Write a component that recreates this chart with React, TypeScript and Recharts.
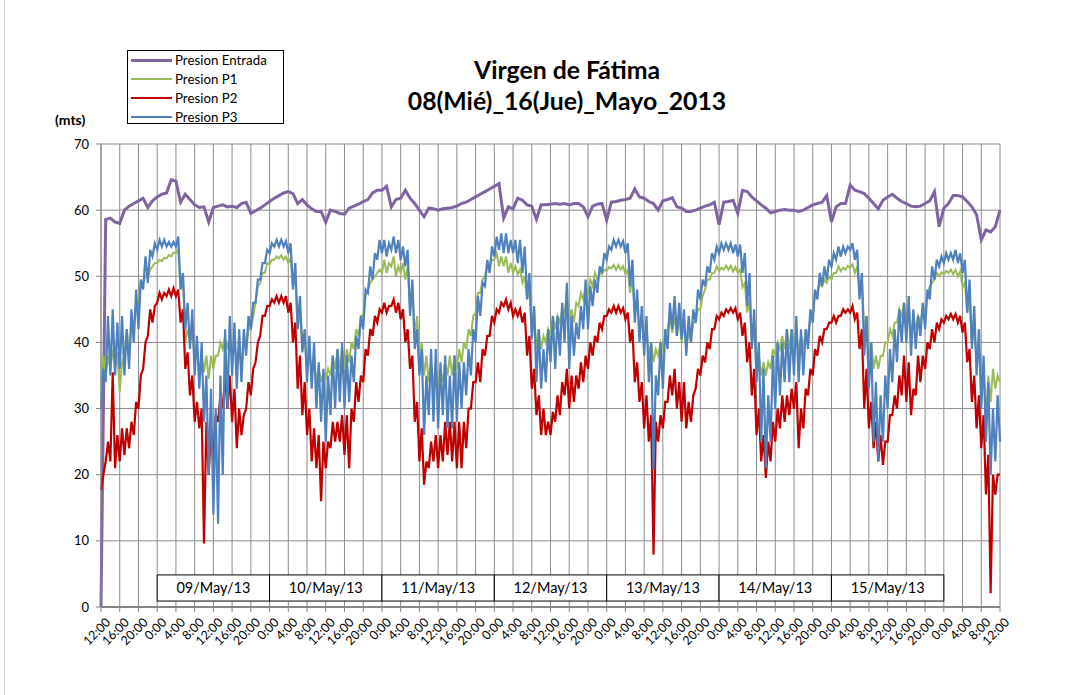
import { LineChart, Line, XAxis, YAxis, CartesianGrid, ReferenceArea } from "recharts";

// hours counted from 08/May/13 12:00, one entry per hour (0..192)
const hourCycle = ["12:00", "16:00", "20:00", "0:00", "4:00", "8:00"];
const days = ["09/May/13", "10/May/13", "11/May/13", "12/May/13", "13/May/13", "14/May/13", "15/May/13"];
const dayStarts = [12, 36, 60, 84, 108, 132, 156];
const yTicks = [0, 10, 20, 30, 40, 50, 60, 70];

const entrada = [
  0, 58.6, 58.8, 58.2, 58.0, 60.0, 60.6, 61.0, 61.4, 61.8, 60.4, 61.4,
  62.0, 62.4, 62.6, 64.6, 64.4, 61.2, 62.4, 61.6, 60.8, 60.4, 60.5, 58.2,
  60.4, 60.6, 60.8, 60.5, 60.6, 60.4, 61.0, 61.2, 59.5, 59.9, 60.3, 60.8,
  61.3, 61.8, 62.2, 62.6, 62.8, 62.5, 61.0, 61.6, 60.8, 60.2, 59.8, 59.8,
  58.2, 60.0, 59.8, 59.5, 59.4, 60.3, 60.6, 60.9, 61.3, 61.6, 62.6, 63.0,
  63.0, 63.6, 60.5, 61.6, 61.8, 63.0, 61.8, 61.0, 60.0, 59.0, 60.3, 60.2,
  60.0, 60.2, 60.3, 60.4, 60.6, 61.0, 61.2, 61.6, 62.0, 62.4, 62.8, 63.2,
  63.6, 64.0, 58.8, 60.5, 60.2, 61.8, 61.5, 60.8, 60.6, 58.6, 60.8, 60.8,
  60.9, 61.0, 60.9, 61.0, 60.8, 61.0, 61.0, 60.5, 59.0, 60.6, 60.9, 61.0,
  58.5, 61.2, 61.3, 61.5, 61.6, 61.8, 63.2, 62.0, 61.8, 61.3, 61.0, 60.0,
  61.4, 61.6, 61.9, 60.5, 60.3, 59.8, 59.8, 60.0, 60.3, 60.6, 60.8, 61.2,
  57.8, 61.2, 61.3, 61.5, 59.5, 63.0, 62.8, 62.0, 61.4, 60.8, 60.3, 59.6,
  59.8, 60.0, 60.1, 60.0, 60.0, 59.8, 60.0, 60.4, 60.8, 61.0, 61.2, 62.2,
  58.2, 60.5, 61.0, 61.0, 63.8, 63.0, 62.8, 62.5, 61.8, 61.0, 60.2, 61.5,
  62.0, 62.4, 61.8, 61.3, 61.0, 60.6, 60.5, 60.6, 61.0, 61.4, 62.8, 57.5,
  60.3, 61.0, 62.2, 62.2, 62.0, 61.3, 60.5, 59.3, 55.5, 57.0, 56.7, 57.5,
  60.0,
];

// low / high of the noisy band read for each hour
const p1Lo = [
  34, 35, 36, 36, 32.5, 38, 38, 42, 46, 49, 50, 51.5,
  52, 52.3, 52.7, 53, 53.5, 48, 40, 40, 37.5, 35, 35.5, 34.5,
  36, 38, 39, 39, 38, 37, 36, 39, 42, 46, 49, 50.5,
  51.8, 52.5, 52.7, 52.5, 52, 48.5, 42, 39, 36, 35, 34, 34,
  34.5, 35, 36, 36, 36, 37, 39, 41, 44, 48, 49.5, 50.5,
  50.5, 50.5, 51.5, 50, 50.5, 49.5, 45, 41, 38, 35, 34, 33.5,
  33, 34, 35, 35, 36, 37, 39, 41, 44.5, 47.5, 50, 51.5,
  52.5, 51.5, 51.5, 50.5, 50.5, 50.3, 49, 46.5, 42, 39, 39, 40,
  41, 42, 43, 44.5, 43, 43, 45.5, 46.5, 47.5, 48.5, 49.5, 50.3,
  50.8, 51.2, 51, 51, 50.3, 47.5, 44.5, 42, 40, 38, 37, 38,
  39, 42, 41.5, 41, 40, 39, 40, 43, 45, 48, 49.5, 50.5,
  50.8, 51, 51, 50.7, 50.5, 48.3, 44.5, 40, 36, 35, 35, 36,
  38, 39, 39, 39, 40, 38, 39, 41, 44.5, 47.5, 48.5, 49,
  49.5, 50.5, 50.8, 51, 51.3, 50.5, 47.5, 42, 38, 36, 36, 38,
  40, 41, 43, 44, 42, 41, 42, 43, 45, 48.5, 49.5, 50,
  50.3, 50.5, 50.3, 50, 48.3, 44.5, 40, 37.5, 33, 28, 31, 33,
  34,
];
const p1Hi = [
  38, 38, 39, 38.5, 37, 42, 42, 46, 49, 50, 51, 52,
  52.5, 52.8, 53.2, 53.6, 54, 50, 42, 41.5, 39, 38, 38, 38,
  38, 40, 41, 41, 40, 39, 40, 42, 44, 48.5, 50.5, 52,
  52.5, 53, 53.2, 53, 52.7, 50, 45, 41, 39, 37, 36, 35.5,
  36, 38, 39, 39, 39, 40, 42, 44, 47, 49, 50, 51,
  52.5, 52, 53, 51.5, 52, 51.5, 48.5, 44, 40, 38, 37, 36.5,
  36, 37, 38, 38, 39, 40, 42, 44, 47.5, 49.5, 51.5, 52.5,
  53.5, 53, 53, 52, 51.5, 51, 50, 48.5, 45, 42, 41, 42,
  44, 44, 45, 47.5, 45, 46, 47.5, 48.5, 49.5, 50.5, 50.5, 51,
  51.4, 51.7, 51.7, 51.5, 51, 49.5, 46.5, 44, 42, 40, 39, 40,
  41, 44, 44, 44, 43, 42, 43, 45, 47, 49.5, 50.5, 51.5,
  51.3, 51.6, 51.6, 51.4, 51, 49, 46.5, 42, 38, 37, 37, 39,
  40, 41, 42, 42, 42, 41, 42, 44, 47.5, 49, 49.5, 50,
  50.5, 51.5, 51.3, 51.6, 51.8, 51.5, 49.5, 44, 40, 38, 38, 40,
  42, 43, 45, 46, 45, 44, 44, 45, 47, 49, 50.5, 50.6,
  50.8, 51, 51, 50.8, 49, 46.5, 42, 39, 37, 35, 36, 35,
  36,
];

const p2Lo = [
  17.7, 22, 22, 21, 22, 23, 24, 26, 30, 36, 41, 43,
  46, 46.5, 47, 47, 47, 43, 36, 32, 28, 27, 9.6, 20,
  22, 28, 30, 30, 28, 24, 26, 30, 32, 37, 41, 44,
  45.5, 46, 46, 46, 44.5, 40, 33, 29, 26, 22, 21, 16,
  21, 24, 25, 25, 23, 21, 28, 31, 34, 38, 41, 43,
  44.5, 44.5, 45.5, 44.5, 43.5, 40, 36, 28, 22, 18.5, 21, 22,
  21, 22, 23, 22, 21, 21, 24, 30, 34, 34, 38, 41,
  43, 44.5, 45.5, 45, 44, 44, 43, 38, 33, 29, 26, 26,
  26, 28, 29, 32, 30, 31, 33, 34, 36, 38, 40, 42,
  44, 44.5, 44.5, 44.5, 43.5, 40, 34, 31, 27, 25, 7.9, 25,
  27, 31, 32, 30, 28, 27, 28, 33, 35, 37, 39, 42,
  43.5, 44, 44.5, 44.5, 43.5, 41, 37, 32, 26, 22, 19.5, 22,
  25, 27, 28, 29, 30, 24, 27, 32, 35, 38, 40, 42,
  43, 43, 44, 44.5, 44.5, 43.5, 39, 30, 27, 24, 22, 21.5,
  25, 29, 30, 32, 31, 29, 32, 34, 36, 39, 40, 42,
  43, 43.5, 43.5, 43, 41.5, 37, 31, 27, 24, 17, 2.1, 17,
  20,
];
const p2Hi = [
  20, 25, 35.5, 26, 27, 27, 28, 31, 35, 40, 45, 45.5,
  47.5, 47.5, 48, 48.2, 48, 45, 38.5, 35, 31, 30, 28, 27,
  29, 32, 35, 35, 33, 30, 29, 34, 36, 40, 44, 45.5,
  46.5, 47, 47, 47, 46, 43, 38, 34, 30, 27, 26, 25,
  25, 28, 28, 29, 29, 30, 34, 35, 39, 42, 44, 45,
  46, 45.5, 46.5, 46, 45, 42, 38, 31, 27, 22, 25, 26,
  26, 28, 28, 28, 28, 28, 30, 34, 37, 39, 41, 44,
  45, 46, 46.5, 46, 45, 45, 44.5, 41, 36, 32, 30, 28,
  29.5, 32, 34, 36, 35, 35, 37, 38, 40, 41, 43, 44,
  45, 45.5, 45.5, 45.2, 44.5, 42, 37, 34, 32, 29, 28, 29,
  31, 35, 36, 34, 34, 31, 32, 36, 38, 40, 42, 44,
  44.5, 45, 45.2, 45.2, 44.5, 43, 40, 36, 30, 26, 25, 28,
  30, 32, 32, 33, 34, 30, 33, 36, 39, 41, 42, 43,
  44, 44, 45, 45, 45.5, 44.5, 42, 36, 31, 28, 26, 25,
  29, 32, 35, 38, 37, 33, 38, 38, 40, 42, 43, 43.5,
  44, 44.3, 44.3, 44, 43, 39, 35, 32, 29, 23, 20, 20,
  22,
];

const p3Lo = [
  30, 34, 35, 35, 36, 35, 36, 40, 42, 48, 49, 53,
  54, 54.5, 54.5, 54.5, 54.5, 48, 42, 39, 35, 33, 28, 20,
  14, 12.6, 20, 30, 35, 33, 34, 38, 42, 46, 49.5, 52,
  53.5, 54.5, 54.5, 54.5, 53.5, 48, 42, 38.5, 34, 33, 30, 28,
  25, 29, 30, 31, 30, 31, 34, 39, 42, 47.5, 49.5, 52.5,
  53.5, 53, 54, 53.5, 52.5, 51.5, 44, 39, 35, 26, 29, 28,
  27, 29, 27, 27, 28, 30, 32, 35, 40, 44, 48.5, 50.5,
  53, 54, 53.5, 53.5, 53.5, 52, 50.5, 46.5, 40.5, 34, 33, 34,
  37, 36, 38, 40, 36, 38, 40.5, 42, 42, 45.5, 47.5, 50.5,
  52.5, 54, 54.5, 54.5, 53.5, 48.5, 43, 40, 38, 34, 20.7, 32,
  33, 39, 42, 41, 40.5, 38, 40, 43, 46.5, 48.5, 50.5, 52.5,
  53.5, 54, 54, 53.5, 53, 50.5, 45.5, 39, 34, 25, 21, 25,
  30, 32, 34, 34, 35, 34, 35, 39, 43, 46.5, 48.5, 49.5,
  51.5, 52.5, 53, 53.5, 54, 52.5, 46.5, 38, 33, 25, 22, 25,
  30, 34, 37, 40, 40, 38, 39, 41, 42, 46.5, 49.5, 51.5,
  52, 52.5, 52.5, 52, 50.5, 44.5, 39, 35, 30, 25, 20, 22,
  25,
];
const p3Hi = [
  36, 44, 45, 43, 44, 42, 45, 48, 49.5, 53, 54, 55,
  55.5, 55.5, 55.2, 55.2, 56, 50.5, 46, 45, 41, 40, 35, 33,
  30, 35, 42, 44, 43, 42, 42, 44, 46, 49.5, 52, 54,
  55, 55.5, 55.5, 55.3, 55, 52, 47, 42, 41, 40, 37, 36,
  35, 38, 39, 40, 38, 38, 41, 44, 48, 51.5, 53.5, 55.5,
  55.5, 55, 56, 55.5, 54.5, 54, 49.5, 42, 39, 35, 39, 39,
  37, 38, 35, 38, 37, 37, 39, 42, 47, 49, 52.5, 54.5,
  56, 56.5, 56.5, 55.5, 55.5, 55.5, 54.5, 50.5, 45.5, 42, 39, 42,
  44, 44, 46, 49, 44, 43, 45.5, 49.5, 48.5, 49.5, 51.5, 53.5,
  54.5, 55.5, 55.5, 55.3, 55, 52.5, 48, 45.5, 44, 40, 35, 40,
  42, 46, 47, 46, 45, 44, 45, 48, 49.5, 51.5, 53.5, 54.5,
  55, 55, 55, 54.8, 54.8, 53.5, 50.5, 45, 40, 36, 32, 38,
  40, 40, 42, 42, 44, 42, 42, 45, 48, 50.5, 51.5, 52.5,
  53.5, 54.5, 54.5, 54.5, 55, 54, 50.5, 44, 40, 34, 32, 35,
  39, 42, 45, 46, 47, 45, 44, 46, 48, 51.5, 52.5, 53,
  53.5, 53.5, 54, 53.5, 52.5, 49.5, 45.5, 42, 38, 34, 30, 32,
  35,
];

const series = [
  { key: "entrada", name: "Presion Entrada", color: "#8064A2", width: 3 },
  { key: "p1", name: "Presion P1", color: "#9BBB59", width: 2 },
  { key: "p2", name: "Presion P2", color: "#C00000", width: 2.2 },
  { key: "p3", name: "Presion P3", color: "#4F81BD", width: 2.2 },
];

const xTicks: number[] = [];
for (let t = 0; t <= 192; t += 4) xTicks.push(t);

const rows: any[] = [];
for (let h = 0; h < entrada.length; h++) {
  rows.push({ t: h, entrada: entrada[h], p1: p1Lo[h], p2: p2Lo[h], p3: p3Lo[h] });
  if (h < entrada.length - 1) rows.push({ t: h + 0.5, p1: p1Hi[h], p2: p2Hi[h], p3: p3Hi[h] });
}

const font = "Lato, 'Open Sans', sans-serif";

const XTick = (props: any) => {
  const { x, y, payload } = props;
  const label = hourCycle[(payload.value / 4) % hourCycle.length];
  const ax = x + 4;
  const ay = y + 3;
  return (
    <text x={ax} y={ay} dy="0.7em" transform={`rotate(-45 ${ax} ${ay})`} textAnchor="end" fontSize={12.5} fill="#000" fontFamily={font}>
      {label}
    </text>
  );
};

export default function App() {
  return (
    <div style={{ position: "absolute", left: 0, top: 0, width: 1067, height: 695, background: "#fff", fontFamily: font }}>
      <div style={{ position: "absolute", left: 4, top: 0, width: 1, height: 695, background: "#d0d0d0" }} />
      <LineChart width={1067} height={695} data={rows} margin={{ top: 144, right: 67, bottom: 28, left: 41 }}>
        <CartesianGrid stroke="#8c8c8c" strokeWidth={1} />
        <XAxis
          type="number"
          dataKey="t"
          domain={[0, 192]}
          ticks={xTicks}
          interval={0}
          height={60}
          tick={<XTick />}
          tickSize={5}
          axisLine={{ stroke: "#868686", strokeWidth: 2 }}
          tickLine={{ stroke: "#868686" }}
        />
        <YAxis
          domain={[0, 70]}
          ticks={yTicks}
          width={60}
          tickSize={5}
          tickMargin={7}
          axisLine={{ stroke: "#868686" }}
          tickLine={{ stroke: "#868686" }}
          tick={{ fontSize: 13, fill: "#000", fontFamily: font }}
        />
        {days.map((d, i) => (
          <ReferenceArea
            key={d}
            x1={dayStarts[i]}
            x2={dayStarts[i] + 24}
            y1={0.9}
            y2={4.85}
            fill="#fff"
            fillOpacity={1}
            stroke="#000"
            strokeWidth={1}
            label={{ value: d, position: "center", fontSize: 14.5, fill: "#000", fontFamily: font }}
          />
        ))}
        {series.map((s) => (
          <Line
            key={s.key}
            type="linear"
            dataKey={s.key}
            name={s.name}
            stroke={s.color}
            strokeWidth={s.width}
            dot={false}
            connectNulls
            isAnimationActive={false}
          />
        ))}
      </LineChart>

      <div style={{ position: "absolute", left: 0, width: 1134, top: 54, textAlign: "center", fontWeight: 700, fontSize: 24.8, lineHeight: "31px", color: "#000" }}>
        <div>Virgen de Fátima</div>
        <div>08(Mié)_16(Jue)_Mayo_2013</div>
      </div>

      <div style={{ position: "absolute", left: 55, top: 111, fontWeight: 700, fontSize: 14, color: "#000" }}>(mts)</div>

      <div style={{ position: "absolute", left: 127, top: 50, width: 155, height: 72, border: "1px solid #000", background: "#fff" }}>
        {series.map((s, i) => (
          <div key={s.key} style={{ position: "absolute", left: 3, top: 1 + i * 19, height: 16, display: "flex", alignItems: "center" }}>
            <div style={{ width: 41, height: s.key === "entrada" ? 3 : 2, background: s.color, marginRight: 3 }} />
            <span style={{ fontSize: 13.3, color: "#000", whiteSpace: "nowrap" }}>{s.name}</span>
          </div>
        ))}
      </div>
    </div>
  );
}
